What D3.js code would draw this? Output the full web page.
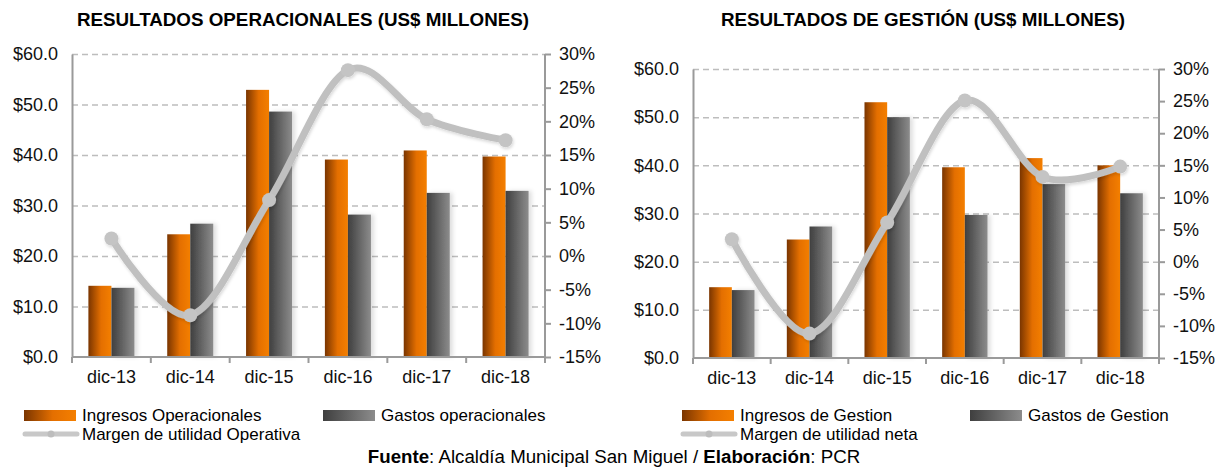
<!DOCTYPE html>
<html>
<head>
<meta charset="utf-8">
<script src="https://cdn.jsdelivr.net/npm/d3@7"></script>
<style>
  body { margin: 0; background: #fff; }
  svg { font-family: "Liberation Sans", Arial, sans-serif; }
</style>
</head>
<body>
<svg id="chart" width="1227" height="468"></svg>
<script>
// categories and values
var categories = ["dic-13", "dic-14", "dic-15", "dic-16", "dic-17", "dic-18"];

var opIngresos = [14.1, 24.3, 52.9, 39.1, 40.9, 39.7];
var opGastos   = [13.7, 26.4, 48.6, 28.2, 32.5, 32.9];
var opMargen   = [2.6, -8.8, 8.3, 27.6, 20.3, 17.2];

var gesIngresos = [14.7, 24.6, 53.1, 39.6, 41.5, 40.0];
var gesGastos   = [14.1, 27.3, 50.0, 29.7, 36.1, 34.2];
var gesMargen   = [3.5, -11.2, 6.1, 25.1, 13.2, 14.8];

var moneyTicks = [0, 10, 20, 30, 40, 50, 60];
var pctTicks = [-15, -10, -5, 0, 5, 10, 15, 20, 25, 30];

var svg = d3.select("#chart");
var defs = svg.append("defs");

// gradients for the bars
var gOrange = defs.append("linearGradient").attr("id", "gradOrange");
gOrange.append("stop").attr("offset", "0%").attr("stop-color", "#7a3500");
gOrange.append("stop").attr("offset", "55%").attr("stop-color", "#e46f00");
gOrange.append("stop").attr("offset", "100%").attr("stop-color", "#f47f00");

var gGray = defs.append("linearGradient").attr("id", "gradGray");
gGray.append("stop").attr("offset", "0%").attr("stop-color", "#3f3f3f");
gGray.append("stop").attr("offset", "100%").attr("stop-color", "#8c8c8c");

var shadow = defs.append("filter").attr("id", "shadow")
    .attr("x", "-20%").attr("y", "-20%").attr("width", "160%").attr("height", "140%");
shadow.append("feDropShadow").attr("dx", 3).attr("dy", 0)
    .attr("stdDeviation", 2).attr("flood-color", "#000").attr("flood-opacity", 0.13);

var lineShadow = defs.append("filter").attr("id", "lineShadow")
    .attr("x", "-10%").attr("y", "-10%").attr("width", "120%").attr("height", "130%");
lineShadow.append("feDropShadow").attr("dx", 1).attr("dy", 2)
    .attr("stdDeviation", 1.5).attr("flood-color", "#000").attr("flood-opacity", 0.15);

function drawChart(cfg) {
  var g = svg.append("g");

  var x = d3.scaleBand()
      .domain(categories)
      .range([cfg.left, cfg.right])
      .paddingInner(0.416)
      .paddingOuter(0.208);

  var xSub = d3.scaleBand()
      .domain(["ing", "gas"])
      .range([0, x.bandwidth()]);

  var y = d3.scaleLinear().domain([0, 60]).range([cfg.bottom, cfg.top]);
  var y2 = d3.scaleLinear().domain([-15, 30]).range([cfg.bottom, cfg.top]);

  // dashed gridlines
  g.append("g")
      .attr("transform", "translate(" + cfg.left + ",0)")
      .call(d3.axisLeft(y).tickValues(moneyTicks.slice(1)).tickSize(-(cfg.right - cfg.left)).tickFormat(""))
      .call(function(s) { s.select(".domain").remove(); })
      .selectAll("line")
      .attr("stroke", "#bdbdbd")
      .attr("stroke-width", 1.5)
      .attr("stroke-dasharray", "6,4");

  // title
  g.append("text")
      .attr("x", cfg.titleX)
      .attr("y", 26)
      .attr("text-anchor", "middle")
      .style("font-weight", "bold")
      .style("font-size", "18.8px")
      .attr("fill", "#000")
      .text(cfg.title);

  // bars
  var groups = g.selectAll(".grp")
      .data(categories)
      .enter().append("g")
      .attr("class", "grp")
      .attr("transform", function(d) { return "translate(" + x(d) + ",0)"; });

  groups.append("rect")
      .attr("x", xSub("ing"))
      .attr("width", xSub.bandwidth())
      .attr("y", function(d, i) { return y(cfg.ingresos[i]); })
      .attr("height", function(d, i) { return y(0) - y(cfg.ingresos[i]); })
      .attr("fill", "url(#gradOrange)");

  groups.append("rect")
      .attr("x", xSub("gas"))
      .attr("width", xSub.bandwidth())
      .attr("y", function(d, i) { return y(cfg.gastos[i]); })
      .attr("height", function(d, i) { return y(0) - y(cfg.gastos[i]); })
      .attr("fill", "url(#gradGray)")
      .attr("filter", "url(#shadow)");

  // axis lines
  var axisColor = "#9a9a9a";

  var left = g.append("g")
      .attr("transform", "translate(" + cfg.left + ",0)")
      .call(d3.axisLeft(y).tickValues(moneyTicks).tickSize(0).tickPadding(14)
        .tickFormat(function(d) { return "$" + d3.format(".1f")(d); }));
  left.select(".domain").attr("stroke", axisColor).attr("stroke-width", 2);
  left.selectAll("text").style("font-size", "18px").attr("fill", "#111");

  var right = g.append("g")
      .attr("transform", "translate(" + cfg.right + ",0)")
      .call(d3.axisRight(y2).tickValues(pctTicks).tickSize(6).tickPadding(8)
        .tickFormat(function(d) { return d + "%"; }));
  right.select(".domain").attr("stroke", axisColor).attr("stroke-width", 2)
      .attr("d", "M0," + cfg.top + "V" + cfg.bottom);
  right.selectAll("line").attr("stroke", axisColor).attr("stroke-width", 2);
  right.selectAll("text").style("font-size", "18px").attr("fill", "#111");

  var bottom = g.append("g")
      .attr("transform", "translate(0," + cfg.bottom + ")")
      .call(d3.axisBottom(x).tickSize(0).tickPadding(13));
  bottom.select(".domain").attr("stroke", axisColor).attr("stroke-width", 2)
      .attr("d", "M" + cfg.left + ",0H" + cfg.right);
  bottom.selectAll("text").style("font-size", "18px").attr("fill", "#111");

  // tick marks at category boundaries
  var bounds = d3.range(categories.length + 1).map(function(i) { return cfg.left + i * x.step(); });
  bottom.selectAll(".bound")
      .data(bounds)
      .enter().append("line")
      .attr("class", "bound")
      .attr("x1", function(d) { return d; })
      .attr("x2", function(d) { return d; })
      .attr("y1", 0)
      .attr("y2", 6)
      .attr("stroke", axisColor)
      .attr("stroke-width", 2);

  // margin line, smoothed like excel
  var line = d3.line()
      .x(function(d, i) { return x(categories[i]) + x.bandwidth() / 2; })
      .y(function(d) { return y2(d); })
      .curve(d3.curveCardinal.tension(0));

  var lg = g.append("g").attr("filter", "url(#lineShadow)");
  lg.append("path")
      .datum(cfg.margen)
      .attr("d", line)
      .attr("fill", "none")
      .attr("stroke", "#c0c0c0")
      .attr("stroke-width", 7)
      .attr("stroke-linecap", "round");

  lg.selectAll(".dot")
      .data(cfg.margen)
      .enter().append("circle")
      .attr("class", "dot")
      .attr("cx", function(d, i) { return x(categories[i]) + x.bandwidth() / 2; })
      .attr("cy", function(d) { return y2(d); })
      .attr("r", 7)
      .attr("fill", "#c4c4c4");

  // legend
  var leg = g.append("g").style("font-size", "17px");
  leg.append("rect").attr("x", cfg.legX).attr("y", 410).attr("width", 52).attr("height", 11)
      .attr("fill", "url(#gradOrange)");
  leg.append("text").attr("x", cfg.legX + 58).attr("y", 421).text(cfg.legIng);
  leg.append("rect").attr("x", cfg.legX2).attr("y", 410).attr("width", 52).attr("height", 11)
      .attr("fill", "url(#gradGray)");
  leg.append("text").attr("x", cfg.legX2 + 58).attr("y", 421).text(cfg.legGas);
  leg.append("line").attr("x1", cfg.legX + 1).attr("x2", cfg.legX + 53)
      .attr("y1", 434).attr("y2", 434)
      .attr("stroke", "#c8c8c8").attr("stroke-width", 5).attr("stroke-linecap", "round");
  leg.append("circle").attr("cx", cfg.legX + 27).attr("cy", 434).attr("r", 3.5).attr("fill", "#bdbdbd");
  leg.append("text").attr("x", cfg.legX + 58).attr("y", 440).text(cfg.legMar);
}

drawChart({
  left: 72, right: 545, top: 54, bottom: 357,
  title: "RESULTADOS OPERACIONALES (US$ MILLONES)", titleX: 303,
  ingresos: opIngresos, gastos: opGastos, margen: opMargen,
  legX: 24, legX2: 323,
  legIng: "Ingresos Operacionales", legGas: "Gastos operacionales",
  legMar: "Margen de utilidad Operativa"
});

drawChart({
  left: 693, right: 1159, top: 69, bottom: 358,
  title: "RESULTADOS DE GESTIÓN (US$ MILLONES)", titleX: 923,
  ingresos: gesIngresos, gastos: gesGastos, margen: gesMargen,
  legX: 682, legX2: 970,
  legIng: "Ingresos de Gestion", legGas: "Gastos de Gestion",
  legMar: "Margen de utilidad neta"
});

// source line
var foot = svg.append("text")
    .attr("x", 614)
    .attr("y", 463)
    .attr("text-anchor", "middle")
    .style("font-size", "18.7px")
    .attr("fill", "#000");
foot.append("tspan").style("font-weight", "bold").text("Fuente");
foot.append("tspan").text(": Alcaldía Municipal San Miguel / ");
foot.append("tspan").style("font-weight", "bold").text("Elaboración");
foot.append("tspan").text(": PCR");
</script>
</body>
</html>
